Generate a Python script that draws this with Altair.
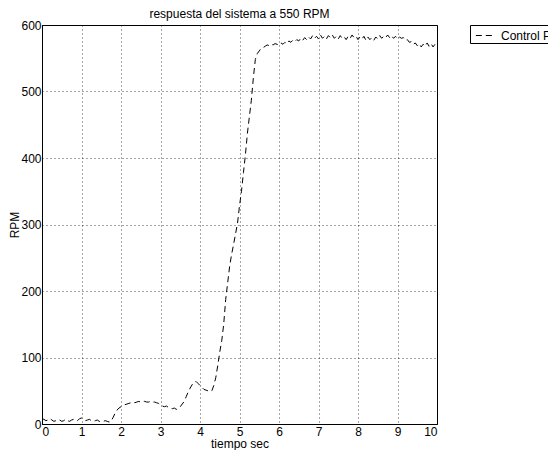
import altair as alt
import pandas as pd

# sampled every 0.05 s
seg_a = [8, 7, 5, 6, 8, 6, 4, 5, 7, 6, 4, 5, 7, 5, 4, 6, 7, 5, 5, 8,
         9, 7, 5, 6, 7, 5, 4, 5, 6, 4, 3, 4, 5, 4, 3, 4]                      # 0.00 - 1.75
seg_b = [10, 16, 21, 24, 26, 28, 29, 30, 31, 32, 33, 32, 33, 34, 33, 34, 34,
         33, 33, 34, 33, 33, 32, 31, 29, 27, 26, 27, 25, 24, 23, 24, 22, 23]  # 1.80 - 3.45
seg_c = [26, 30, 34, 41, 48, 54, 59, 63, 64, 61, 58, 55, 52, 51, 50, 49, 50,
         58, 70, 88, 108, 125, 150, 187, 212, 237, 255, 270, 286, 302, 328,
         350, 378, 405, 437, 462, 487, 520, 548, 557, 561, 565, 566, 568,
         570, 569, 571, 570, 572, 571]                                       # 3.50 - 5.95
seg_d = [570, 573, 571, 574, 572, 576, 574, 577, 575, 578, 576, 580, 577, 581,
         578, 582, 579, 584, 580, 583,
         579, 585, 580, 583, 579, 584, 581, 585, 580, 583, 579, 584, 580, 582,
         578, 583, 580, 585, 581, 583,
         578, 582, 579, 583, 577, 582, 578, 581, 577, 582, 579, 584, 580, 583,
         581, 585, 581, 584, 580, 583,
         579, 582, 580, 581, 577, 578, 574, 575, 571, 573, 569, 572, 567, 571,
         568, 573, 568, 572, 567, 571,
         569]                                                                # 6.00 - 10.00

rpm = seg_a + seg_b + seg_c + seg_d
t = [round(i * 0.05, 2) for i in range(len(rpm))]
serie = ["Control P"] * len(rpm)

x_ticks = list(range(0, 11))
y_ticks = list(range(0, 601, 100))

df = pd.DataFrame({"t": t, "rpm": rpm, "serie": serie})

FONT = "Liberation Sans"
FS = 12

chart = alt.Chart(df).mark_line(strokeWidth=1, strokeDash=[6, 4]).encode(
    x=alt.X("t:Q", scale=alt.Scale(domain=[0, 10], nice=False, zero=False),
            axis=alt.Axis(values=x_ticks, title="tiempo sec", format="d",
                          labelPadding=2, titlePadding=1)),
    y=alt.Y("rpm:Q", scale=alt.Scale(domain=[0, 600], nice=False),
            axis=alt.Axis(values=y_ticks, title="RPM", format="d",
                          labelPadding=1, titlePadding=-1)),
    color=alt.Color("serie:N", scale=alt.Scale(range=["black"]),
                    legend=alt.Legend(title=None, orient="none", legendX=428, legendY=0,
                                      strokeColor="black", fillColor="white",
                                      padding=1, cornerRadius=0,
                                      symbolType="stroke", symbolStrokeWidth=1,
                                      symbolDash=[6, 4], symbolSize=300,
                                      symbolOffset=4, labelOffset=7,
                                      labelFont=FONT, labelFontSize=FS,
                                      labelColor="black")),
).properties(
    width=395,
    height=399,
    title=alt.Title("respuesta del sistema a 550 RPM", fontSize=FS, fontWeight="normal",
                    font=FONT, color="black", offset=-2),
    autosize=alt.AutoSizeParams(type="none"),
    padding={"left": 34, "top": 17, "right": 111, "bottom": 26},
    background="white",
).configure_view(
    stroke="black", strokeWidth=1
).configure_axis(
    domainColor="black",
    grid=True,
    gridColor="black",
    gridDash=[1, 3],
    gridOpacity=0.7,
    tickSize=0,
    labelFont=FONT,
    labelFontSize=FS,
    labelColor="black",
    titleFont=FONT,
    titleFontSize=FS,
    titleFontWeight="normal",
    titleColor="black",
)

chart.save("out.html", embed_options={"renderer": "svg", "actions": False})
